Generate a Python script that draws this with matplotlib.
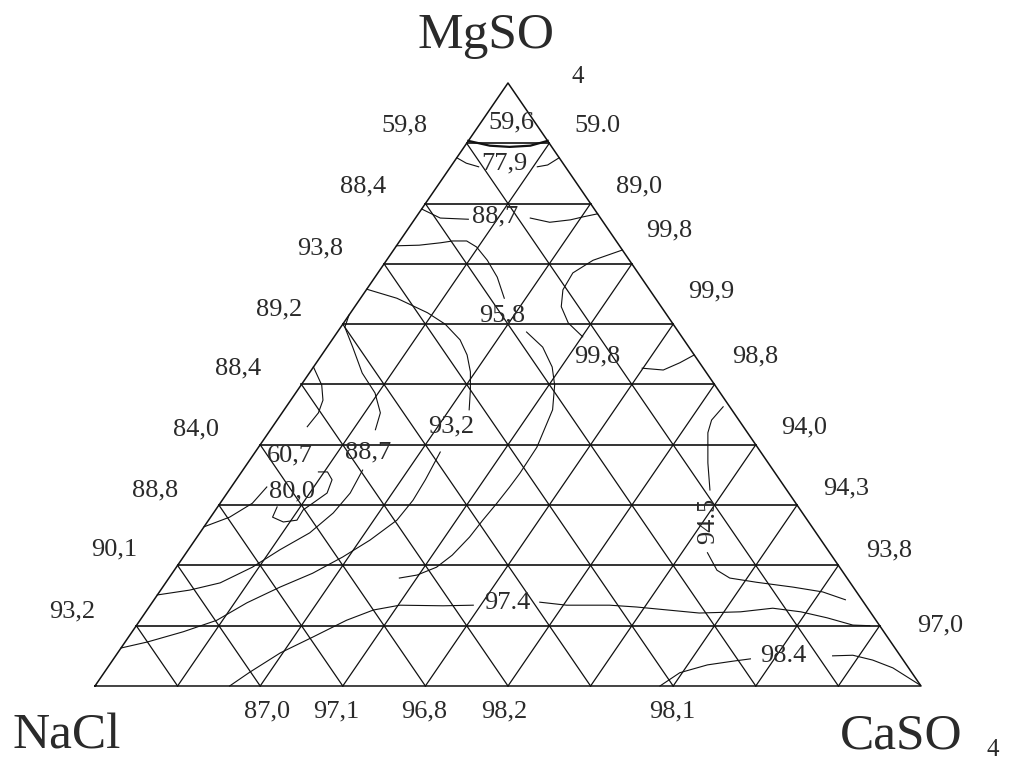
import matplotlib.pyplot as plt

plt.rcParams['font.family'] = ['Liberation Serif', 'DejaVu Serif']

# corner names
top_name, left_name, right_name = 'MgSO', 'NaCl', 'CaSO'

# values written outside the NaCl-MgSO4 side, with their MgSO4 level (%)
left_mg = [92.9, 82.8, 72.6, 62.5, 52.7, 42.5, 32.5, 22.6, 12.4]
left_vals = ['59,8', '88,4', '93,8', '89,2', '88,4', '84,0', '88,8', '90,1', '93,2']

# values written outside the MgSO4-CaSO4 side
right_mg = [92.9, 82.8, 75.6, 65.5, 54.7, 42.8, 32.8, 22.4, 10.0]
right_vals = ['59.0', '89,0', '99,8', '99,9', '98,8', '94,0', '94,3', '93,8', '97,0']

# values written under the NaCl-CaSO4 side, with their CaSO4 level (%)
bottom_ca = [20.8, 29.2, 39.8, 49.5, 69.9]
bottom_vals = ['87,0', '97,1', '96,8', '98,2', '98,1']

# values written inside the triangle at (CaSO4 %, MgSO4 %)
inner_vals = ['59,6', '77,9', '88,7', '95,8', '99,8', '93,2', '60,7', '88,7', '80,0', '97.4', '98.4']
inner_ca = [3.7, 6.3, 9.6, 18.5, 33.5, 21.6, 4.4, 13.7, 7.7, 43.0, 80.8]
inner_mg = [93.4, 86.6, 77.8, 61.5, 54.6, 43.0, 38.3, 38.8, 32.3, 13.8, 5.0]
rot_val, rot_ca, rot_mg = '94.5', 60.5, 27.4

# iso-lines, points as (CaSO4 %, MgSO4 %)
iso_596 = [(0.0, 90.4), (3.0, 89.6), (5.5, 89.4), (7.9, 89.6), (9.6, 90.4)]
iso_779a = [(0.0, 87.6), (1.6, 86.7), (3.4, 86.1)]
iso_779b = [(10.5, 86.1), (11.6, 86.4), (12.4, 87.6)]
iso_887a = [(0.0, 79.1), (3.0, 77.6), (6.5, 77.4)]
iso_887b = [(13.9, 77.6), (16.6, 76.9), (18.9, 77.3), (20.2, 77.8), (21.7, 78.3)]
iso_938 = [(0.0, 73.0), (2.7, 73.1), (5.1, 73.5), (6.4, 73.8), (8.1, 73.8),
           (9.8, 72.8), (12.2, 70.6), (14.8, 67.8), (17.4, 64.3)]
iso_932 = [(0.0, 65.8), (4.4, 64.3), (9.3, 61.9), (12.4, 60.0), (15.5, 57.4),
           (17.6, 54.9), (19.4, 52.1), (20.9, 49.1), (22.4, 45.8)]
iso_892 = [(0.0, 61.5), (0.5, 59.5), (3.1, 56.2), (6.4, 51.9), (9.6, 48.6),
           (11.9, 45.3), (12.7, 42.5)]
iso_884 = [(0.0, 52.9), (2.5, 49.9), (3.9, 47.4), (4.4, 45.3), (4.2, 43.0)]
iso_958 = [(22.9, 58.7), (26.1, 56.2), (28.9, 52.9), (30.7, 49.9), (32.5, 45.8),
           (33.7, 39.6), (33.8, 35.3), (33.7, 33.0), (33.5, 30.3), (33.2, 27.5),
           (33.0, 24.7), (32.4, 21.7), (31.5, 19.7), (29.8, 18.4), (27.9, 17.9)]
iso_999 = [(27.7, 72.3), (25.0, 70.6), (23.6, 68.5), (23.8, 65.7), (25.0, 62.9),
           (27.2, 60.2), (30.1, 57.9)]
iso_988 = [(39.9, 52.7), (42.6, 52.4), (44.0, 53.6), (45.1, 54.9)]
iso_945 = [(52.9, 46.3), (52.6, 44.1), (53.2, 42.0), (55.7, 37.0), (58.2, 32.5)]
iso_938r = [(63.1, 22.1), (65.7, 19.2), (67.9, 17.9), (71.5, 17.2), (76.3, 16.4),
            (80.3, 15.6), (83.7, 14.3)]
iso_888 = [(0.0, 26.4), (2.3, 28.0), (3.9, 30.3), (4.3, 33.0)]
iso_800 = [(7.2, 29.7), (7.5, 28.0), (9.2, 27.2), (10.7, 27.5), (10.6, 29.2),
           (11.2, 30.3), (12.1, 32.0), (11.6, 34.2), (10.4, 35.5), (9.3, 35.5)]
iso_901 = [(0.0, 15.1), (3.5, 15.9), (6.6, 17.1), (9.2, 19.7), (11.1, 22.6),
           (13.3, 25.4), (14.5, 28.7), (14.9, 32.0), (14.5, 35.8)]
iso_932l = [(0.0, 6.3), (2.7, 7.3), (6.2, 9.0), (9.3, 10.9), (11.5, 13.8),
            (14.2, 16.4), (17.0, 18.7), (19.3, 21.4), (21.2, 24.2), (22.8, 27.5),
            (23.1, 30.8), (22.9, 34.2), (22.4, 38.8)]
iso_974a = [(16.3, 0.0), (17.6, 2.3), (19.7, 5.5), (22.3, 8.1), (25.0, 10.9),
            (27.4, 12.6), (30.2, 13.4), (35.5, 13.3), (39.1, 13.4)]
iso_974b = [(46.9, 13.9), (50.4, 13.4), (55.6, 13.4), (59.0, 13.1), (67.1, 12.1),
            (72.0, 12.3), (75.6, 12.9), (79.3, 12.3), (83.0, 11.3), (86.7, 10.1),
            (88.8, 10.0)]
iso_984a = [(68.4, 0.0), (69.7, 2.2), (72.4, 3.5), (75.1, 4.1), (77.1, 4.5)]
iso_984b = [(86.8, 5.0), (89.2, 5.1), (92.0, 4.3), (95.1, 3.0), (99.9, 0.1)]

curves = [iso_779a, iso_779b, iso_887a, iso_887b, iso_938, iso_932, iso_892,
          iso_884, iso_958, iso_999, iso_988, iso_945, iso_938r, iso_888,
          iso_800, iso_901, iso_932l, iso_974a, iso_974b, iso_984a, iso_984b]


def to_xy(ca, mg):
    return ca + mg / 2.0, mg


fig = plt.figure(figsize=(10.12, 7.63), dpi=100)
ax = fig.add_axes([0, 0, 1, 1])
ax.set_xlim(-11.50, 111.02)
ax.set_ylim(-12.77, 113.76)
ax.axis('off')

ink = '#111111'
txt = '#2a2a2a'

# outline and grid, 10 % steps
ax.plot([0, 100, 50, 0], [0, 0, 100, 0], color=ink, lw=1.1)
for k in range(10, 100, 10):
    x0, y0 = to_xy(0, k)
    x1, y1 = to_xy(100 - k, k)
    ax.plot([x0, x1], [y0, y1], color=ink, lw=1.2)
    x0, y0 = to_xy(k, 0)
    x1, y1 = to_xy(k, 100 - k)
    ax.plot([x0, x1], [y0, y1], color=ink, lw=0.9)
    x0, y0 = to_xy(100 - k, 0)
    x1, y1 = to_xy(0, 100 - k)
    ax.plot([x0, x1], [y0, y1], color=ink, lw=0.9)

# iso-lines
for pts in curves:
    xs, ys = zip(*[to_xy(c, m) for c, m in pts])
    ax.plot(xs, ys, color=ink, lw=0.8)
xs, ys = zip(*[to_xy(c, m) for c, m in iso_596])
ax.plot(xs, ys, color=ink, lw=1.6)

fs = 19
for m, s in zip(left_mg, left_vals):
    x, y = to_xy(-9.0, m)
    ax.text(x, y, s, fontsize=fs, color=txt, ha='center', va='center')
for m, s in zip(right_mg, right_vals):
    x, y = to_xy(107.3 - m, m)
    ax.text(x, y, s, fontsize=fs, color=txt, ha='center', va='center')
for c, s in zip(bottom_ca, bottom_vals):
    ax.text(c, -4.3, s, fontsize=fs, color=txt, ha='center', va='center')
for c, m, s in zip(inner_ca, inner_mg, inner_vals):
    x, y = to_xy(c, m)
    ax.text(x, y, s, fontsize=fs, color=txt, ha='center', va='center')
x, y = to_xy(rot_ca, rot_mg)
ax.text(x, y, rot_val, fontsize=fs, color=txt, ha='center', va='center', rotation=90)

# corner names
big, sub = 37, 18
ax.text(39.1, 105.8, top_name, fontsize=big, color=txt, ha='left', va='baseline')
ax.text(57.7, 100.0, '4', fontsize=sub, color=txt, ha='left', va='baseline')
ax.text(-10.0, -10.4, left_name, fontsize=big, color=txt, ha='left', va='baseline')
ax.text(90.2, -10.4, right_name, fontsize=big, color=txt, ha='left', va='baseline')
ax.text(107.9, -12.5, '4', fontsize=sub, color=txt, ha='left', va='bottom')

fig.savefig('out.png', dpi=100)
